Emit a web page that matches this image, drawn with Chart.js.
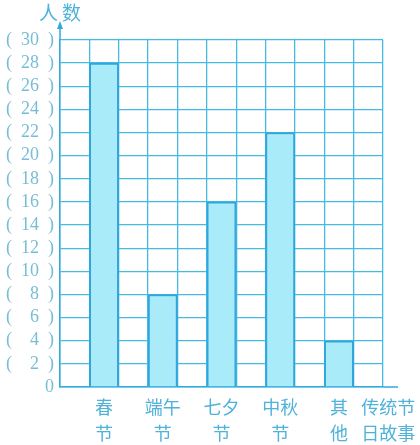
<!DOCTYPE html>
<html>
<head>
<meta charset="utf-8">
<script src="https://cdn.jsdelivr.net/npm/chart.js@4/dist/chart.umd.min.js"></script>
<style>
  html, body { margin: 0; padding: 0; background: #fff; }
  #wrap { width: 420px; height: 445px; }
</style>
</head>
<body>
<div id="wrap"><canvas id="myChart"></canvas></div>
<script>
// categories (two text lines each) and how many people picked them
const categories = [["春", "节"], ["端午", "节"], ["七夕", "节"], ["中秋", "节"], ["其", "他"], ["传统节", "日故事"]];
const counts = [28, 8, 16, 22, 4, null];
const yMax = 30;
const yStep = 2;

const gridColor = "#45bbe4";
const axisColor = "#30aade";
const textColor = "#4fb2d8";
const tickColor = "#78bdd6";

// every category takes an empty column and then its bar column,
// the last one only gets its label column
var columnLabels = [];
var columnValues = [];
categories.forEach(function (c, i) {
  if (i < categories.length - 1) {
    columnLabels.push("");
    columnValues.push(null);
  }
  columnLabels.push(c);
  columnValues.push(counts[i]);
});

var figSpace = "\u2007";
function yLabel(v) {
  if (v === 0) return "0";
  var s = String(v);
  while (s.length < 2) s = figSpace + s;
  return "(\u2002" + s + "\u2002)";
}

// axis arrow, title and the shifted last label
const extras = {
  id: "extras",
  beforeDraw: function (chart) {
    var items = chart.scales.x.getLabelItems();
    items.forEach(function (it) {
      if (Array.isArray(it.label) && it.label[0] === "传统节") {
        it.options.translation[0] += 20;
      }
    });
  },
  afterDraw: function (chart) {
    var ctx = chart.ctx;
    var a = chart.chartArea;
    ctx.save();
    ctx.strokeStyle = axisColor;
    ctx.fillStyle = axisColor;
    ctx.lineWidth = 1.5;
    ctx.beginPath();
    ctx.moveTo(a.left, a.top);
    ctx.lineTo(a.left, 27);
    ctx.moveTo(a.right, a.bottom);
    ctx.lineTo(a.right + 15, a.bottom);
    ctx.stroke();
    ctx.beginPath();
    ctx.moveTo(a.left, 21);
    ctx.lineTo(a.left - 3, 29);
    ctx.lineTo(a.left + 3, 29);
    ctx.closePath();
    ctx.fill();

    ctx.fillStyle = textColor;
    ctx.font = "19px 'Noto Sans CJK SC'";
    ctx.textBaseline = "middle";
    ctx.letterSpacing = "4px";
    ctx.fillText("人数", a.left - 21, 13);
    ctx.restore();
  },
};

var ctx = document.getElementById("myChart").getContext("2d");
var chart = new Chart(ctx, {
  type: "bar",
  data: {
    labels: columnLabels,
    datasets: [
      {
        data: columnValues,
        backgroundColor: "#a9ebf9",
        borderColor: "#2fa6dc",
        borderWidth: 2,
        barPercentage: 1,
        categoryPercentage: 1,
      },
    ],
  },
  options: {
    responsive: true,
    maintainAspectRatio: false,
    animation: false,
    layout: { padding: { top: 40, right: 37, bottom: 0, left: 0 } },
    plugins: {
      legend: { display: false },
      tooltip: { enabled: false },
    },
    scales: {
      x: {
        grid: { color: gridColor, lineWidth: 1.3, drawTicks: false },
        border: { color: axisColor, width: 1.5 },
        ticks: {
          autoSkip: false,
          maxRotation: 0,
          padding: 8,
          color: textColor,
          font: { family: "'Noto Sans CJK SC'", size: 18, lineHeight: 1.4 },
        },
        afterFit: function (scale) {
          scale.height = 58;
        },
      },
      y: {
        min: 0,
        max: yMax,
        grid: { color: gridColor, lineWidth: 1.3, drawTicks: false },
        border: { color: axisColor, width: 1.5 },
        ticks: {
          stepSize: yStep,
          autoSkip: false,
          padding: 6,
          color: tickColor,
          font: { family: "'Liberation Serif'", size: 18, lineHeight: 1 },
          callback: function (v) {
            return yLabel(v);
          },
        },
        afterFit: function (scale) {
          scale.width = 60;
        },
      },
    },
  },
  plugins: [extras],
});
</script>
</body>
</html>
